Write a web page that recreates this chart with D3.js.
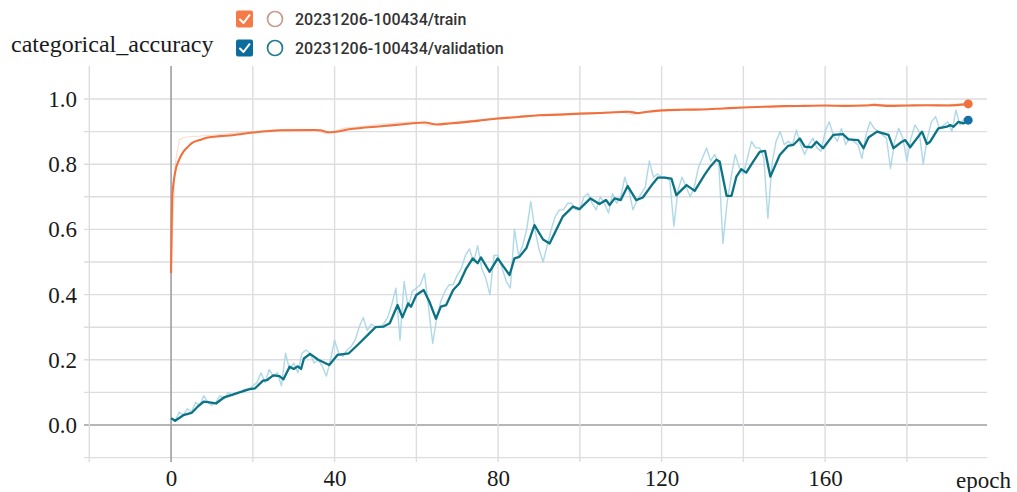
<!DOCTYPE html>
<html>
<head>
<meta charset="utf-8">
<script src="https://cdn.jsdelivr.net/npm/d3@7"></script>
<style>
  html, body { margin: 0; padding: 0; background: #ffffff; }
  svg { display: block; }
</style>
</head>
<body>
<svg id="chart" width="1017" height="492"></svg>
<script>
// ---------------- DATA ----------------
const yTickValues = [0.0, 0.2, 0.4, 0.6, 0.8, 1.0];
const xTickValues = [0, 40, 80, 120, 160];
const seriesNames = ["20231206-100434/train", "20231206-100434/validation"];

// train – smoothed curve (epoch, value)
const trainEpochs = [0,0.3,1,2,3,4,5,7,9,12,15,20,27,35,36.5,38.5,40,43.5,52,58,62,65,68,75,80,85,90,95,100,105,110,112,114,116,120,125,130,135,140,145,150,155,160,165,170,172,175,180,185,190,195];
const trainSmooth = [0.466,0.70,0.775,0.815,0.838,0.852,0.864,0.874,0.882,0.886,0.889,0.897,0.904,0.905,0.904,0.898,0.899,0.907,0.917,0.924,0.928,0.922,0.925,0.933,0.94,0.945,0.950,0.952,0.955,0.957,0.960,0.961,0.957,0.960,0.965,0.967,0.968,0.971,0.974,0.976,0.978,0.979,0.980,0.979,0.980,0.982,0.979,0.980,0.981,0.980,0.985];

// train – raw (faint)
const trainRawEpochs = [0,1,2,3,5,7,10,13,16,20,25,30,35,38,42,48,55,60,63,66,72,80,88,95,102,110,113,118,125,132,140,148,156,164,172,180,188,195];
const trainRaw = [0.47,0.80,0.875,0.882,0.885,0.886,0.889,0.892,0.896,0.90,0.905,0.907,0.906,0.893,0.91,0.918,0.927,0.93,0.918,0.926,0.932,0.943,0.95,0.953,0.957,0.962,0.952,0.963,0.968,0.97,0.975,0.978,0.98,0.978,0.984,0.979,0.982,0.986];

// validation – smoothed curve (epoch, value)
const valEpochs = [0,1,3,5,6.5,8,9,11,13,16,19,20.5,22.5,23.5,25,26.5,27.5,29,30,31,31.8,32.5,34,36,38.7,40.7,43.5,46,48.5,50,52,53.5,55.4,56.6,58,58.7,60,61.8,63.2,64.8,66,67.3,69,70.5,72.2,73.8,75,75.8,77.9,79.9,82.8,84,85.2,86.9,88.9,91,92.6,95.8,98.3,99.9,102.6,104.8,106.4,107.3,108.5,110,111.7,113.8,115.4,117.9,119.1,120.7,122.4,123.6,126.1,128.1,130.5,132,133.4,134.2,135.9,137.1,138.3,139.5,140.7,142.4,144,145.3,146.6,148.9,150.9,152.2,153.8,155,156.7,157.9,159.5,162,164.4,165.7,168.1,169.4,170.6,172.7,175.5,176.7,178.8,179.6,180.8,183.7,184.9,185.7,187.7,189.8,190.6,191.4,192.6,193.8,195];
const valSmooth = [0.021,0.013,0.03,0.037,0.056,0.072,0.07,0.066,0.085,0.097,0.109,0.112,0.136,0.138,0.152,0.15,0.14,0.179,0.172,0.18,0.172,0.204,0.218,0.2,0.184,0.215,0.22,0.25,0.281,0.30,0.302,0.312,0.368,0.33,0.373,0.363,0.399,0.414,0.378,0.326,0.363,0.368,0.414,0.434,0.48,0.511,0.496,0.514,0.47,0.511,0.46,0.511,0.516,0.542,0.613,0.569,0.557,0.639,0.67,0.662,0.695,0.678,0.69,0.675,0.695,0.69,0.733,0.69,0.698,0.741,0.759,0.759,0.756,0.705,0.736,0.718,0.767,0.794,0.814,0.808,0.703,0.703,0.762,0.785,0.774,0.808,0.838,0.841,0.762,0.828,0.856,0.859,0.879,0.854,0.852,0.869,0.849,0.89,0.892,0.876,0.874,0.849,0.882,0.9,0.89,0.849,0.869,0.874,0.852,0.9,0.862,0.869,0.91,0.915,0.92,0.915,0.93,0.925,0.935];

// validation – raw per epoch (0 .. 195)
const valRaw = [
  0.02,0.012,0.04,0.03,0.05,0.04,0.07,0.06,0.09,0.07,
  0.06,0.07,0.09,0.08,0.10,0.09,0.10,0.10,0.11,0.11,
  0.12,0.13,0.16,0.13,0.17,0.15,0.16,0.12,0.22,0.17,
  0.19,0.16,0.22,0.23,0.22,0.19,0.20,0.18,0.15,0.20,
  0.26,0.22,0.21,0.23,0.24,0.26,0.30,0.33,0.29,0.31,
  0.30,0.30,0.31,0.33,0.37,0.42,0.26,0.44,0.36,0.41,
  0.42,0.43,0.465,0.36,0.25,0.33,0.38,0.41,0.43,0.43,
  0.46,0.48,0.52,0.54,0.50,0.55,0.48,0.45,0.40,0.52,
  0.52,0.48,0.44,0.42,0.60,0.52,0.55,0.60,0.685,0.60,
  0.54,0.50,0.55,0.60,0.64,0.66,0.66,0.68,0.68,0.66,
  0.66,0.70,0.71,0.68,0.66,0.70,0.68,0.65,0.71,0.68,
  0.70,0.76,0.72,0.66,0.69,0.71,0.73,0.81,0.76,0.77,
  0.76,0.76,0.75,0.61,0.72,0.76,0.73,0.70,0.73,0.79,
  0.82,0.85,0.81,0.83,0.80,0.557,0.68,0.76,0.83,0.79,
  0.77,0.82,0.87,0.85,0.85,0.82,0.634,0.80,0.87,0.90,
  0.86,0.87,0.86,0.905,0.86,0.83,0.86,0.88,0.85,0.84,
  0.90,0.93,0.89,0.87,0.91,0.86,0.88,0.87,0.86,0.818,
  0.89,0.93,0.91,0.90,0.89,0.88,0.787,0.87,0.91,0.88,
  0.81,0.88,0.92,0.90,0.80,0.88,0.93,0.946,0.91,0.92,
  0.93,0.90,0.966,0.92,0.94,0.935
];

// ---------------- CHART ----------------
const svg = d3.select("#chart");
const plot = { left: 84, right: 987, top: 66, bottom: 459 };

const x = d3.scaleLinear().domain([-21.3, 199.6]).range([plot.left, plot.right]);
const y = d3.scaleLinear().domain([-0.1, 1.1]).range([457.6, 66.4]);

const serif = "'Liberation Serif', 'Times New Roman', serif";
const sans = "Roboto, 'Open Sans', 'Noto Sans', sans-serif";

const C = {
  grid: "#dcdde0",
  axis: "#9c9ea2",
  train: "#f0703e",
  trainRaw: "#f6b896",
  val: "#0b7383",
  valRaw: "#a6d4e6",
  valDot: "#1570a6",
  valBox: "#0c6c9c",
  trainBox: "#f47b47"
};

// grid
const g = svg.append("g");
const hGrid = d3.range(-1, 11).map(i => i / 10);
g.selectAll("line.h").data(hGrid).join("line")
  .attr("x1", plot.left).attr("x2", plot.right)
  .attr("y1", d => y(d)).attr("y2", d => y(d))
  .attr("stroke", d => Math.abs(d) < 1e-9 ? C.axis : C.grid)
  .attr("stroke-width", d => Math.abs(d) < 1e-9 ? 1.6 : 1.4);

const vGrid = d3.range(-20, 200, 20);
g.selectAll("line.v").data(vGrid).join("line")
  .attr("x1", d => x(d)).attr("x2", d => x(d))
  .attr("y1", plot.top).attr("y2", plot.bottom + 3)
  .attr("stroke", d => d === 0 ? C.axis : C.grid)
  .attr("stroke-width", d => d === 0 ? 1.6 : 1.4);

// y axis labels
const yAxis = d3.axisLeft(y).tickValues(yTickValues).tickFormat(d3.format(".1f")).tickSize(0).tickPadding(0);
const ya = svg.append("g").attr("transform", `translate(77,0)`).call(yAxis);
ya.select(".domain").remove();
ya.selectAll("text").attr("font-family", serif).attr("font-size", 23).attr("fill", "#1a1a1a").attr("dy", "0.33em");

// x axis labels
const xAxis = d3.axisBottom(x).tickValues(xTickValues).tickFormat(d3.format("d")).tickSize(0).tickPadding(0);
const xa = svg.append("g").attr("transform", `translate(0,469)`).call(xAxis);
xa.select(".domain").remove();
xa.selectAll("text").attr("font-family", serif).attr("font-size", 23).attr("fill", "#1a1a1a").attr("dy", "0.72em");

svg.append("text").attr("x", 1011).attr("y", 488).attr("text-anchor", "end")
  .attr("font-family", serif).attr("font-size", 23).attr("fill", "#1a1a1a").text("epoch");

svg.append("text").attr("x", 11).attr("y", 52)
  .attr("font-family", serif).attr("font-size", 24).attr("fill", "#1a1a1a").text("categorical_accuracy");

// lines
const lineLin = d3.line().x(d => x(d[0])).y(d => y(d[1]));
const lineMono = d3.line().x(d => x(d[0])).y(d => y(d[1])).curve(d3.curveMonotoneX);

const trainRawPts = trainRawEpochs.map((e, i) => [e, trainRaw[i]]);
const trainPts = trainEpochs.map((e, i) => [e, trainSmooth[i]]);
const valRawPts = valRaw.map((v, i) => [i, v]);
const valPts = valEpochs.map((e, i) => [e, valSmooth[i]]);

svg.append("path").datum(trainRawPts).attr("d", lineLin)
  .attr("fill", "none").attr("stroke", C.trainRaw).attr("stroke-width", 1.2).attr("opacity", 0.45);
svg.append("path").datum(valRawPts).attr("d", lineLin)
  .attr("fill", "none").attr("stroke", C.valRaw).attr("stroke-width", 1.4).attr("opacity", 0.9)
  .attr("stroke-linejoin", "round");
svg.append("path").datum(trainPts).attr("d", lineMono)
  .attr("fill", "none").attr("stroke", C.train).attr("stroke-width", 2.1).attr("stroke-linejoin", "round");
svg.append("path").datum(valPts).attr("d", lineLin)
  .attr("fill", "none").attr("stroke", C.val).attr("stroke-width", 2.3).attr("stroke-linejoin", "round");

// end dots
const lastT = trainPts[trainPts.length - 1];
const lastV = valPts[valPts.length - 1];
svg.append("circle").attr("cx", x(lastT[0])).attr("cy", y(lastT[1])).attr("r", 4.5).attr("fill", C.train);
svg.append("circle").attr("cx", x(lastV[0])).attr("cy", y(lastV[1])).attr("r", 4.5).attr("fill", C.valDot);

// legend
const legend = svg.append("g");
const legendRows = [
  { name: seriesNames[0], box: C.trainBox, ring: "#c99a92", cy: 19 },
  { name: seriesNames[1], box: C.valBox, ring: "#1e7c8e", cy: 48 }
];
legendRows.forEach(r => {
  const row = legend.append("g").attr("transform", `translate(0,${r.cy})`);
  row.append("rect").attr("x", 236).attr("y", -8.5).attr("width", 17).attr("height", 17).attr("rx", 2).attr("fill", r.box);
  row.append("path").attr("d", "M240,0.5 L243.5,4 L249.5,-3.8")
    .attr("fill", "none").attr("stroke", "#fff").attr("stroke-width", 2).attr("stroke-linecap", "round").attr("stroke-linejoin", "round");
  row.append("circle").attr("cx", 275).attr("cy", 0).attr("r", 7.5).attr("fill", "none").attr("stroke", r.ring).attr("stroke-width", 1.7);
  row.append("text").attr("x", 295).attr("y", 0).attr("dy", "0.36em")
    .attr("font-family", sans).attr("font-size", 16).attr("font-weight", 500).attr("fill", "#333").text(r.name);
});
</script>
</body>
</html>
